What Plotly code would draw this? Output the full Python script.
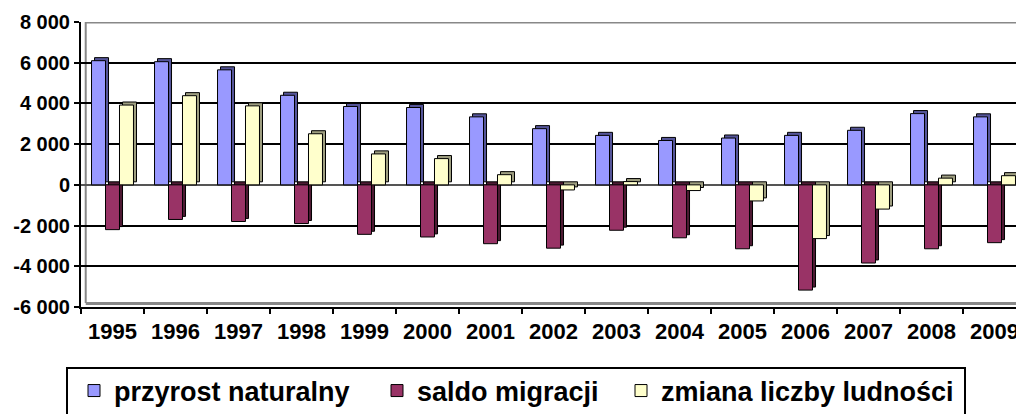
import plotly.graph_objects as go

# ── Data ──────────────────────────────────────────────────────────────────────
years = [str(y) for y in range(1995, 2010)]

przyrost_naturalny = [6100, 6050, 5650, 4400, 3850, 3800, 3340, 2760, 2430,
                      2180, 2300, 2430, 2680, 3500, 3340]
saldo_migracji = [-2200, -1700, -1800, -1900, -2430, -2560, -2890, -3110,
                  -2230, -2600, -3140, -5170, -3840, -3140, -2840]
zmiana_liczby = [3920, 4380, 3880, 2510, 1520, 1290, 500, -250, 160,
                 -280, -790, -2640, -1190, 330, 450]

y_ticks = [-6000, -4000, -2000, 0, 2000, 4000, 6000, 8000]
y_ticktext = [f"{v:,}".replace(",", " ") for v in y_ticks]

FONT = "Arial, Liberation Sans, sans-serif"

# (name, values, front colour, side colour, offset within cluster, legend id)
series = [
    ("przyrost naturalny", przyrost_naturalny, "#9999FF", "#555599", -0.333, "legend"),
    ("saldo migracji", saldo_migracji, "#993366", "#4D1A33", -0.111, "legend2"),
    ("zmiana liczby ludności", zmiana_liczby, "#FFFFCC", "#9E9E80", 0.111, "legend3"),
]

BAR_W = 0.222      # width of a bar, in category units
DX = 0.048         # 3-D depth shift, horizontal (category units)
DZ = 150           # 3-D depth shift, vertical (data units)

fig = go.Figure()

for name, vals, front, side, off, leg in series:
    # depth box drawn behind the front face -> side + top faces
    fig.add_trace(go.Bar(
        x=years, y=vals, base=[DZ] * len(vals),
        offset=off + DX, width=BAR_W,
        marker=dict(color=side, line=dict(color="black", width=1)),
        showlegend=False, hoverinfo="skip",
    ))
    fig.add_trace(go.Bar(
        x=years, y=vals, name=name, legend=leg,
        offset=off, width=BAR_W,
        marker=dict(color=front, line=dict(color="black", width=1)),
    ))

# page has an 8px body margin; figure is sized so it ends at the window edge
OFF = 8
W, H = 1024 - OFF, 414 - OFF
L, R, T, B = 81 - OFF, 0, 22 - OFF, 107
PW, PH = W - L - R, H - T - B
x_range = [-0.5, -0.5 + PW / 63]


def px_x(x):
    # page pixel -> paper x
    return (x - OFF - L) / PW


def px_y(y):
    # page pixel -> paper y
    return (H - B - (y - OFF)) / PH


leg_font = dict(family=FONT, size=27, weight="bold")
leg_common = dict(orientation="h", xanchor="left", yanchor="middle",
                  y=px_y(391), bgcolor="rgba(0,0,0,0)", borderwidth=0,
                  font=leg_font, itemwidth=30)

fig.update_layout(
    width=W, height=H,
    margin=dict(l=L, r=R, t=T, b=B, autoexpand=False),
    paper_bgcolor="white",
    plot_bgcolor="white",
    barmode="overlay",
    font=dict(family=FONT, color="black"),
    xaxis=dict(
        type="category", range=x_range,
        tickson="boundaries", ticks="outside", ticklen=5,
        tickwidth=2, tickcolor="black",
        showline=True, linecolor="black", linewidth=2,
        showgrid=False, automargin=False, ticklabelstandoff=4,
        tickfont=dict(family=FONT, size=22, weight="bold"),
    ),
    # tick marks hanging from the zero floor
    xaxis2=dict(
        overlaying="x", anchor="free", position=6 / 14,
        range=x_range, tickvals=[i + 0.5 for i in range(len(years) - 1)],
        ticks="outside", ticklen=4, tickwidth=2, tickcolor="black",
        showticklabels=False, showline=False, showgrid=False, zeroline=False,
    ),
    yaxis=dict(
        range=[-6000, 8000], tickvals=y_ticks, ticktext=y_ticktext,
        ticks="outside", ticklen=5, tickwidth=2, tickcolor="black",
        showline=True, linecolor="black", linewidth=2,
        showgrid=True, gridcolor="black", gridwidth=2,
        zeroline=True, zerolinecolor="#555555", zerolinewidth=2,
        automargin=False,
        tickfont=dict(family=FONT, size=20, weight="bold"),
    ),
    legend=dict(x=px_x(74), **leg_common),
    legend2=dict(x=px_x(377), **leg_common),
    legend3=dict(x=px_x(621), **leg_common),
    shapes=[
        # back wall outline (grey) and floor
        dict(type="line", xref="paper", yref="y", x0=0.005, x1=1,
             y0=8000, y1=8000, line=dict(color="#888888", width=3), layer="above"),
        dict(type="line", xref="paper", yref="y", x0=0.005, x1=0.005,
             y0=-5800, y1=8000, line=dict(color="#888888", width=2), layer="below"),
        dict(type="rect", xref="paper", yref="y", x0=0.005, x1=1,
             y0=-5900, y1=-5750, fillcolor="#888888", line=dict(width=0), layer="above"),
        # legend frame
        dict(type="rect", xref="paper", yref="paper",
             x0=px_x(67), x1=px_x(965), y0=px_y(420), y1=px_y(368),
             line=dict(color="black", width=2), fillcolor="rgba(0,0,0,0)"),
    ],
)

fig.write_html("out.html")
